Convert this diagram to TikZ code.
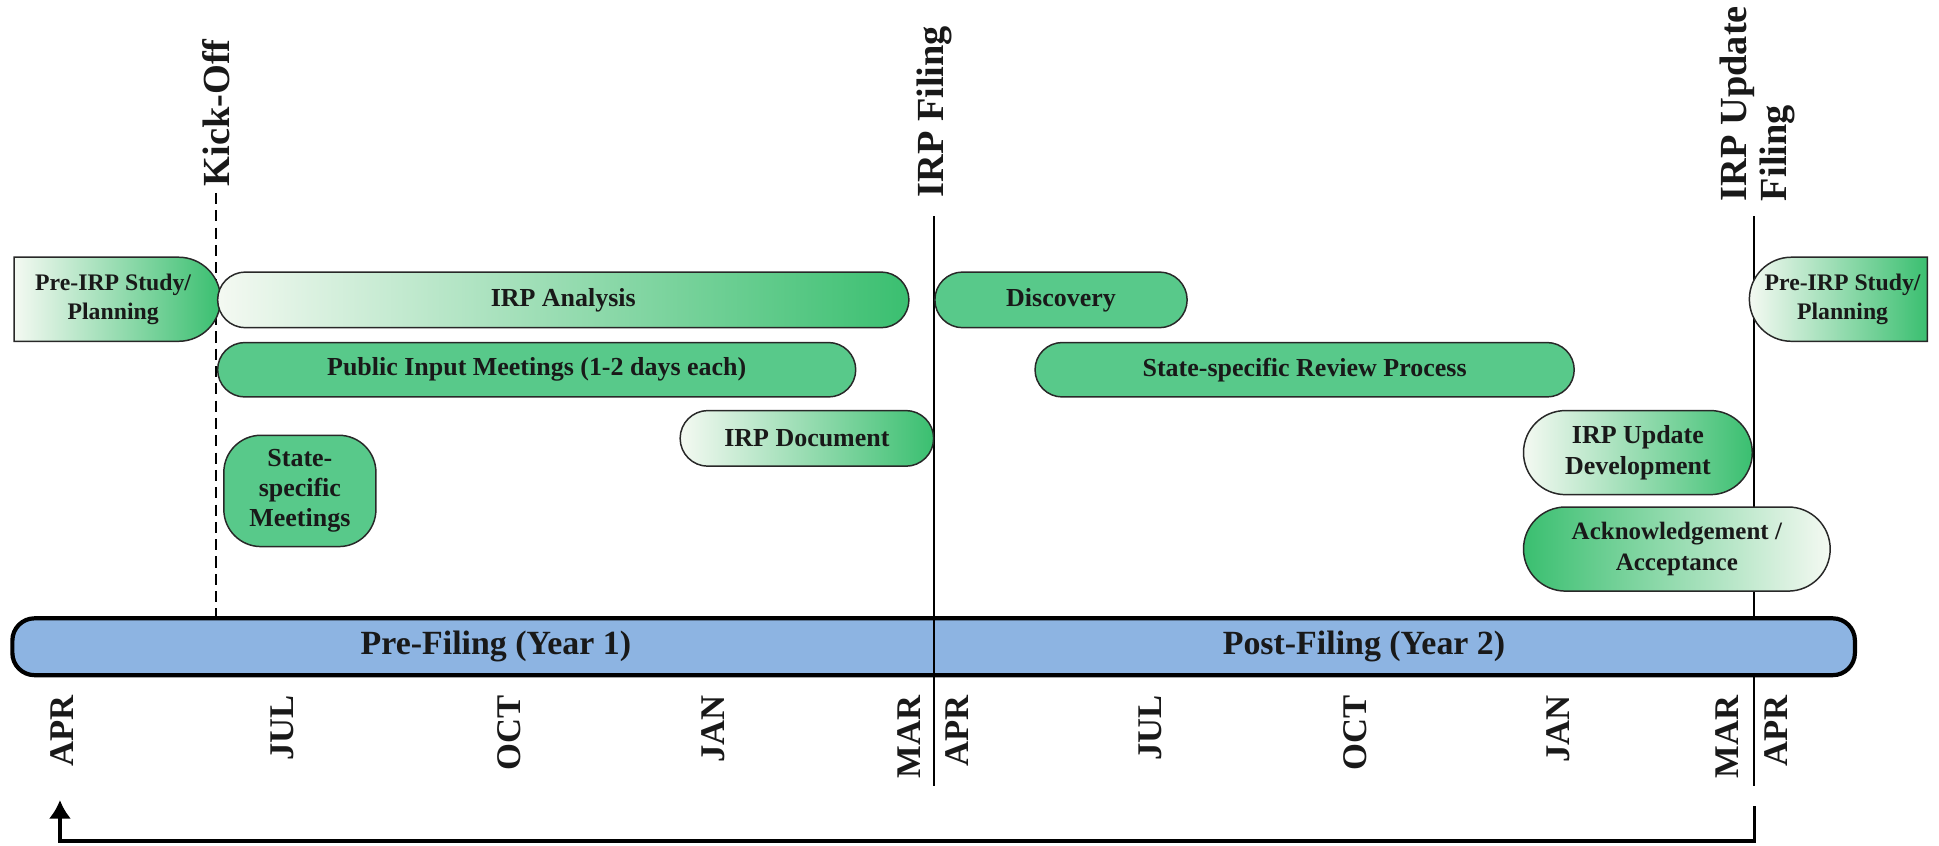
\documentclass[tikz,border=0pt]{standalone}
\usepackage{fontspec}
\setmainfont{Liberation Serif}
\usetikzlibrary{shapes.misc,arrows.meta}
\definecolor{gdark}{RGB}{58,191,112}
\definecolor{glight}{RGB}{244,249,242}
\definecolor{gflat}{RGB}{88,201,138}
\definecolor{barblue}{RGB}{141,180,226}
\definecolor{edge}{RGB}{40,40,40}
\definecolor{ink}{RGB}{25,25,25}
\begin{document}
\begin{tikzpicture}[x=0.5pt,y=-0.5pt,
  task/.style={rounded rectangle, draw=edge, line width=0.6pt, inner sep=0pt,
    align=center, text=ink, font=\bfseries\fontsize{10.5}{12}\selectfont},
  flatgreen/.style={fill=gflat},
  fadein/.style={left color=glight, right color=gdark},
  fadeout/.style={left color=gdark, right color=glight},
  smalltext/.style={font=\bfseries\fontsize{9.6}{11.5}\selectfont},
  milestone/.style={rotate=90, anchor=west, inner sep=0pt, align=left,
    text=ink, font=\bfseries\fontsize{15.5}{16}\selectfont},
  month/.style={rotate=90, anchor=east, inner sep=0pt, text=ink,
    font=\bfseries\fontsize{14}{16}\selectfont},
  bartext/.style={inner sep=0pt, text=ink, font=\bfseries\fontsize{13.7}{15}\selectfont},
  marker/.style={draw=black, line width=0.8pt}
]
\useasboundingbox (0,0) rectangle (1568,684);

% milestone labels
\node[milestone] (kick)   at (175,151) {Kick-Off};
\node[milestone] (filing) at (756,160) {IRP Filing};
\node[milestone] (update) at (1421,163) {IRP Update\\Filing};

% milestone lines
\coordinate (kickTop)   at (175,156);
\coordinate (kickBot)   at (175,500);
\coordinate (filTop)    at (755,175);
\coordinate (filBot)    at (755,636);
\coordinate (updTop)    at (1418,175);
\coordinate (updBot)    at (1418,636);
\draw[marker, dash pattern=on 4.5pt off 2.5pt] (kickTop) -- (kickBot);
\draw[marker] (updTop) -- (updBot);

% timeline bar
\node[draw=black, line width=1.7pt, fill=barblue, rounded corners=9pt,
      minimum width=745pt, minimum height=23pt, inner sep=0pt] (bar) at (755,523) {};
\draw[marker] (filTop) -- (filBot);
\node[bartext] (year1) at (401,523) {Pre-Filing (Year 1)};
\node[bartext] (year2) at (1103,523) {Post-Filing (Year 2)};

% activities, year 1
\node[task, fadein, smalltext, rounded rectangle west arc=none,
      minimum width=83.5pt, minimum height=34pt] (preA) at (91.5,242) {Pre-IRP Study/\\Planning};
\node[task, fadein, minimum width=279.5pt, minimum height=22.5pt] (analysis) at (455.5,242.5) {IRP Analysis};
\node[task, flatgreen, minimum width=258pt, minimum height=22pt] (public) at (434,299) {Public Input Meetings (1-2 days each)};
\node[task, fadein, minimum width=102.5pt, minimum height=22.5pt] (document) at (652.5,354.5) {IRP Document};
\node[task, flatgreen, rectangle, rounded corners=15pt, minimum width=61.5pt, minimum height=45pt,
      font=\bfseries\fontsize{10.5}{12.2}\selectfont] (statemtg) at (242.5,397) {State-\\specific\\Meetings};

% activities, year 2
\node[task, flatgreen, minimum width=102pt, minimum height=22.5pt] (discovery) at (858,242.5) {Discovery};
\node[task, flatgreen, minimum width=218pt, minimum height=22pt] (review) at (1055,299) {State-specific Review Process};
\node[task, fadein, minimum width=92.5pt, minimum height=34pt,
      font=\bfseries\fontsize{10.5}{12.5}\selectfont] (updev) at (1324.5,366) {IRP Update\\Development};
\node[task, fadeout, minimum width=124pt, minimum height=34pt,
      font=\bfseries\fontsize{10.1}{12.5}\selectfont] (ack) at (1356,444) {Acknowledgement /\\Acceptance};
\node[task, fadein, smalltext, rounded rectangle east arc=none,
      minimum width=72pt, minimum height=34pt] (preB) at (1490,242) {Pre-IRP Study/\\Planning};

% month axis
\node[month] (m1)  at (50,562)   {APR};
\node[month] (m2)  at (228,562)  {JUL};
\node[month] (m3)  at (412,562)  {OCT};
\node[month] (m4)  at (577,562)  {JAN};
\node[month] (m5)  at (735,562)  {MAR};
\node[month] (m6)  at (774,562)  {APR};
\node[month] (m7)  at (930,562)  {JUL};
\node[month] (m8)  at (1096,562) {OCT};
\node[month] (m9)  at (1260,562) {JAN};
\node[month] (m10) at (1397,562) {MAR};
\node[month] (m11) at (1436,562) {APR};

% cycle back to the start
\coordinate (loopStart) at (1419,652);
\coordinate (loopEnd)   at (48.5,647);
\draw[line width=1.3pt, -{Latex[length=7.5pt,width=9pt]}]
  (loopStart) -- (loopStart |- 0,680) -- (loopEnd |- 0,680) -- (loopEnd);
\end{tikzpicture}
\end{document}
